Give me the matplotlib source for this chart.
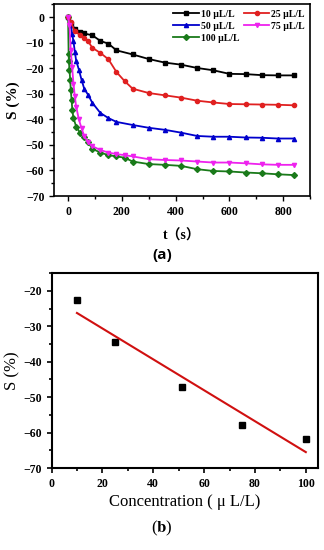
import numpy as np
import matplotlib
matplotlib.use("Agg")
import matplotlib.pyplot as plt
from matplotlib.ticker import MultipleLocator

plt.rcParams['font.family'] = ['Liberation Serif', 'Noto Sans CJK SC']
plt.rcParams['mathtext.fontset'] = 'stix'

# (a) response vs time
t10 = [0, 10, 25, 45, 60, 90, 120, 150, 180, 240, 300, 360, 420, 480, 540, 600, 660, 720, 780, 840]
s10 = [0, -2.5, -4.5, -5.8, -6.4, -7.1, -9.3, -10.4, -13, -14.6, -16.4, -17.8, -18.6, -19.9, -20.8,
       -22.2, -22.3, -22.7, -22.8, -22.8]
t25 = [0, 10, 25, 45, 60, 75, 90, 120, 150, 180, 210, 240, 300, 360, 420, 480, 540, 600, 660, 720, 780, 840]
s25 = [0, -2, -5.5, -7, -8, -9.5, -12, -14, -16.5, -21.5, -25, -28, -29.7, -30.6, -31.5, -32.7, -33.4,
       -34.0, -34.1, -34.2, -34.3, -34.5]
t50 = [0, 10, 15, 20, 25, 30, 40, 50, 60, 75, 90, 120, 150, 180, 240, 300, 360, 420, 480, 540, 600,
       660, 720, 780, 840]
s50 = [0, -3, -6.5, -9.5, -13.5, -17, -20.5, -24.5, -28, -30.5, -33.5, -37.5, -39.5, -41, -42.2, -43.3,
       -44.1, -45.2, -46.5, -46.8, -46.8, -47.1, -47.2, -47.5, -47.5]
t75 = [0, 5, 10, 15, 20, 25, 30, 40, 50, 60, 75, 90, 120, 150, 180, 210, 240, 300, 360, 420, 480, 540,
       600, 660, 720, 780, 840]
s75 = [0, -3, -13, -19.5, -26, -31, -35, -40, -43.5, -46.5, -49, -50.5, -52, -53, -53.6, -54, -54.5,
       -55.6, -55.9, -56.1, -56.5, -56.9, -56.9, -57.2, -57.6, -57.8, -57.8]
t100 = [0, 2, 3, 5, 8, 10, 13, 16, 20, 30, 45, 60, 75, 90, 120, 150, 180, 210, 240, 300, 360, 420, 480,
        540, 600, 660, 720, 780, 840]
s100 = [0, -14.5, -17, -20.5, -24.5, -28.5, -32.5, -36.5, -39.5, -42.8, -45.4, -47, -49, -51.5, -53, -54,
        -54.5, -55, -56.5, -57.5, -57.8, -58.2, -59.5, -60.2, -60.4, -60.8, -61.1, -61.5, -61.8]

# (b) response vs concentration
conc = [10, 25, 51.5, 75, 100]
resp = [-22.6, -34.4, -47.0, -57.8, -61.7]

fig = plt.figure(figsize=(3.24, 5.5), dpi=100)

# ---- panel (a)
ax1 = fig.add_axes([0.167, 0.6436, 0.790, 0.3485])
series = [(t10, s10, 'k', 's', '10 μL/L'),
          (t50, s50, '#0000cc', '^', '50 μL/L'),
          (t100, s100, '#1a7a1a', 'D', '100 μL/L'),
          (t25, s25, '#e02020', 'o', '25 μL/L'),
          (t75, s75, '#ee22ee', 'v', '75 μL/L')]
for t, s, c, m, lab in series:
    ax1.plot(t, s, color=c, marker=m, ms=3, lw=1.3, label=lab)

ax1.set_xlim(-52, 900)
ax1.set_ylim(-70, 5)
ax1.xaxis.set_major_locator(MultipleLocator(200))
ax1.xaxis.set_minor_locator(MultipleLocator(100))
ax1.yaxis.set_major_locator(MultipleLocator(10))
ax1.yaxis.set_minor_locator(MultipleLocator(5))
ax1.tick_params(which='both', direction='out', labelsize=8.5, width=1)
ax1.tick_params(which='major', length=3.5)
ax1.tick_params(which='minor', length=2)
for lb in ax1.get_xticklabels() + ax1.get_yticklabels():
    lb.set_fontweight('bold')
for sp in ax1.spines.values():
    sp.set_linewidth(1.2)
ax1.set_ylabel('S (%)', fontsize=11, labelpad=4, fontweight='bold')
ax1.set_xlabel('t（s）', fontsize=10, labelpad=8, fontweight='bold')

ax1.legend(loc='upper right', ncol=2, frameon=False, handlelength=2.6, handletextpad=0.2,
           columnspacing=0.5, labelspacing=0.3, borderaxespad=0.15,
           prop={'family': 'Liberation Serif', 'weight': 'bold', 'size': 7})

fig.text(0.5, 0.536, '(a)', ha='center', va='center', fontsize=11, family='Open Sans',
         fontweight='bold')

# ---- panel (b)
ax2 = fig.add_axes([0.159, 0.149, 0.8225, 0.3545])
ax2.plot(conc, resp, 'ks', ms=4, ls='none')
k, b = np.polyfit(conc, resp, 1)
xs = np.array([conc[0], conc[-1]])
ax2.plot(xs, k * xs + b, color='#d01010', lw=1.5)

ax2.set_xlim(0, 104.8)
ax2.set_ylim(-70, -15)
ax2.xaxis.set_major_locator(MultipleLocator(20))
ax2.xaxis.set_minor_locator(MultipleLocator(10))
ax2.yaxis.set_minor_locator(MultipleLocator(5))
ax2.set_yticks([-20, -30, -40, -50, -60, -70])
ax2.tick_params(which='both', direction='out', labelsize=8.5, width=1.2)
ax2.tick_params(which='major', length=3.5)
ax2.tick_params(which='minor', length=2)
for lb in ax2.get_xticklabels() + ax2.get_yticklabels():
    lb.set_fontweight('bold')
for sp in ax2.spines.values():
    sp.set_linewidth(1.5)
ax2.set_ylabel('S (%)', fontsize=12, labelpad=2)
ax2.set_xlabel('Concentration ( μ L/L)', fontsize=12, labelpad=3)
fig.text(0.5, 0.04, r'($\mathbf{b}$)', ha='center', va='center', fontsize=12)

fig.savefig('out.png', dpi=100)
